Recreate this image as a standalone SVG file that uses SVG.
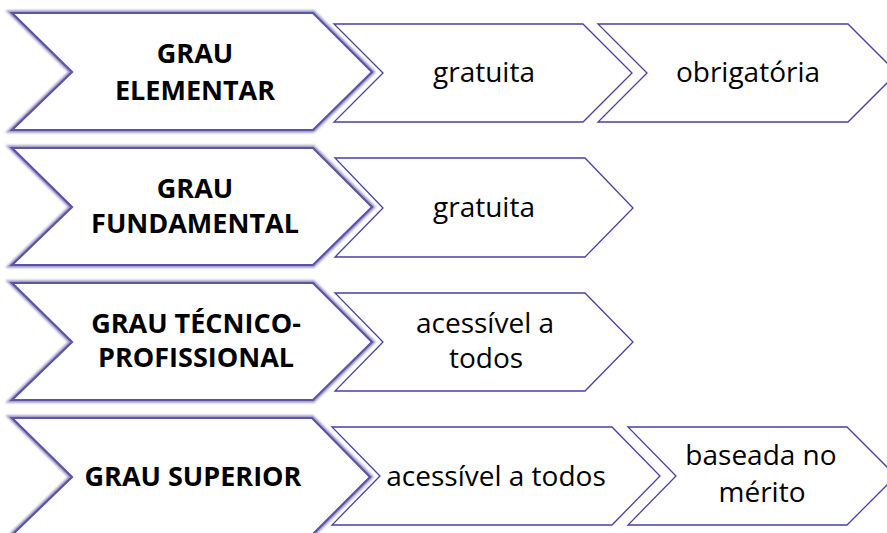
<svg xmlns="http://www.w3.org/2000/svg" width="887" height="533" viewBox="0 0 887 533">
<style>
.big{fill:#ffffff;stroke:#5c54a4;stroke-width:2.2;stroke-linejoin:miter}
.bigsh{fill:none;stroke:#9a95c4;stroke-width:5.5;filter:url(#soft)}
.small{fill:#ffffff;stroke:#4a3fa6;stroke-width:1.3}
.bt{font-family:"Open Sans","Liberation Sans",sans-serif;font-weight:bold;font-size:27px;fill:#000;text-anchor:middle}
.st{font-family:"Open Sans","Liberation Sans",sans-serif;font-size:28px;fill:#000;text-anchor:middle}
</style>
<defs>
<filter id="soft" x="-5%" y="-5%" width="110%" height="110%"><feGaussianBlur stdDeviation="1.1"/></filter>
</defs>
<rect width="887" height="533" fill="#ffffff"/>

<g id="row1-elementar">
<path class="bigsh" d="M12,13 L313,13 L372,72 L313,130 L12,130 L72,72 Z"/>
<path class="big" d="M12,13 L313,13 L372,72 L313,130 L12,130 L72,72 Z"/>
<text class="bt" x="195" y="63">GRAU</text>
<text class="bt" x="195" y="100">ELEMENTAR</text>
</g>
<g id="row1-gratuita">
<path class="small" d="M334,24 L583,24 L632,73 L583,122 L334,122 L383,73 Z"/>
<text class="st" x="484" y="82">gratuita</text>
</g>
<g id="row1-obrigatoria">
<path class="small" d="M598,24 L848,24 L897,73 L848,122 L598,122 L647,73 Z"/>
<text class="st" x="748" y="82">obrigatória</text>
</g>

<g id="row2-fundamental">
<path class="bigsh" d="M12,148 L313,148 L372,207 L313,265 L12,265 L72,207 Z"/>
<path class="big" d="M12,148 L313,148 L372,207 L313,265 L12,265 L72,207 Z"/>
<text class="bt" x="195" y="198">GRAU</text>
<text class="bt" x="195" y="233">FUNDAMENTAL</text>
</g>
<g id="row2-gratuita">
<path class="small" d="M335,158 L585,158 L633,208 L585,257 L335,257 L383,208 Z"/>
<text class="st" x="484" y="217">gratuita</text>
</g>

<g id="row3-tecnico">
<path class="bigsh" d="M12,283 L313,283 L372,342 L313,400 L12,400 L72,342 Z"/>
<path class="big" d="M12,283 L313,283 L372,342 L313,400 L12,400 L72,342 Z"/>
<text class="bt" x="196" y="333">GRAU TÉCNICO-</text>
<text class="bt" x="196" y="367">PROFISSIONAL</text>
</g>
<g id="row3-acessivel">
<path class="small" d="M335,293 L585,293 L633,342 L585,391 L335,391 L383,342 Z"/>
<text class="st" x="485" y="333">acessível a</text>
<text class="st" x="486" y="368">todos</text>
</g>

<g id="row4-superior">
<path class="bigsh" d="M12,418 L312,418 L370,477 L312,535 L12,535 L72,477 Z"/>
<path class="big" d="M12,418 L312,418 L370,477 L312,535 L12,535 L72,477 Z"/>
<text class="bt" x="193" y="486">GRAU SUPERIOR</text>
</g>
<g id="row4-acessivel">
<path class="small" d="M332,427 L612,427 L660,476 L612,525 L332,525 L380,476 Z"/>
<text class="st" x="496" y="486">acessível a todos</text>
</g>
<g id="row4-merito">
<path class="small" d="M628,427 L847,427 L896,476 L847,525 L628,525 L676,476 Z"/>
<text class="st" x="761" y="465">baseada no</text>
<text class="st" x="762" y="502">mérito</text>
</g>
</svg>
